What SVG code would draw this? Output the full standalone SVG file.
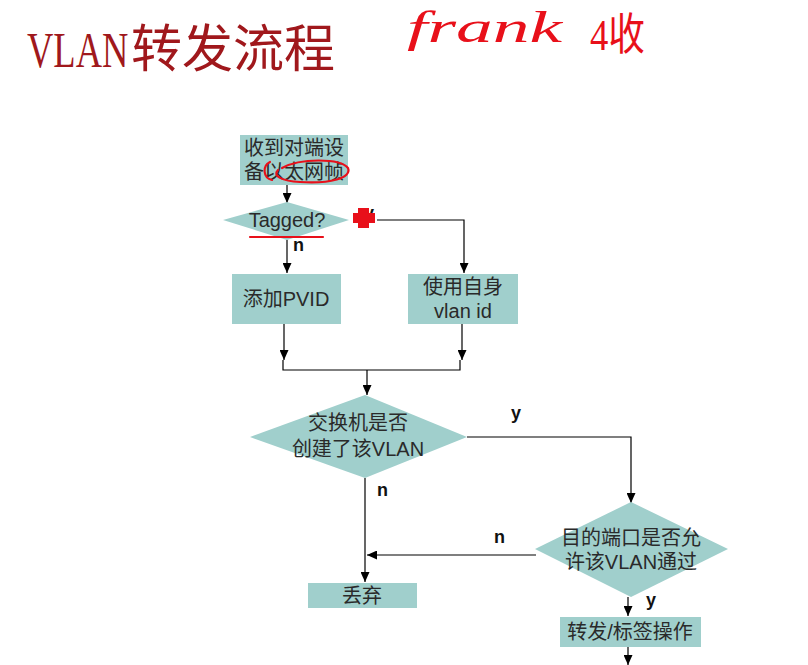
<svg xmlns="http://www.w3.org/2000/svg" width="808" height="665" viewBox="0 0 808 665">
<style>
.box{fill:#a0cfcc}
.t{font-family:"Liberation Sans","Noto Sans CJK SC",sans-serif;font-size:20px;fill:#2a2a2a;text-anchor:middle}
.lbl{font-family:"Liberation Sans",Arial,sans-serif;font-size:18px;font-weight:bold;fill:#111}
.c{fill:none;stroke:#000;stroke-width:1.2}
.ink{fill:none;stroke:#e8101a;stroke-width:2.2;stroke-linecap:round}
</style>
<defs>
<marker id="ah" markerUnits="userSpaceOnUse" markerWidth="10" markerHeight="9" refX="10" refY="4.5" orient="auto">
<path d="M0,0 L10,4.5 L0,9 z" fill="#000"/>
</marker>
</defs>
<rect width="808" height="665" fill="#fff"/>
<g id="title">
<text transform="translate(27,67) scale(1,1.36)" x="0" y="0" font-family="Liberation Serif,serif" font-size="36.5" fill="#a0181c">VLAN</text>
<text x="131" y="67" font-family="Noto Sans CJK SC,sans-serif" font-size="51" fill="#a0181c">转发流程</text>
</g>
<g id="handwriting">
<text x="407" y="42" font-family="Liberation Serif,serif" font-style="italic" font-size="44" fill="#e8101a" textLength="155" lengthAdjust="spacingAndGlyphs">frank</text>
<text x="590" y="50" font-family="Liberation Serif,'Noto Sans CJK SC',serif" font-size="44" fill="#e8101a" textLength="55" lengthAdjust="spacingAndGlyphs">4收</text>
</g>
<g id="connectors">
<path class="c" d="M287 185 V203" marker-end="url(#ah)"/>
<path class="c" d="M287 240 V273" marker-end="url(#ah)"/>
<path class="c" d="M377 220 H464 V273" marker-end="url(#ah)"/>
<path class="c" d="M284 324 V360" marker-end="url(#ah)"/>
<path class="c" d="M462 324 V360" marker-end="url(#ah)"/>
<path class="c" d="M283 360 V370 H460 V360"/>
<path class="c" d="M367 370 V395" marker-end="url(#ah)"/>
<path class="c" d="M467 437 H631 V503" marker-end="url(#ah)"/>
<path class="c" d="M365 478 V582" marker-end="url(#ah)"/>
<path class="c" d="M536 555 H367" marker-end="url(#ah)"/>
<path class="c" d="M628 597 V616" marker-end="url(#ah)"/>
<path class="c" d="M628 647 V665" marker-end="url(#ah)"/>
</g>
<g id="n-receive">
<rect class="box" x="240" y="135" width="108" height="50"/>
<text class="t" x="294" y="155">收到对端设</text>
<text class="t" x="294" y="179">备以太网帧</text>
</g>
<g id="n-tagged">
<polygon class="box" points="287,202 349,220 287,240 223,220"/>
<text class="t" x="287" y="227" font-size="19">Tagged?</text>
</g>
<g id="n-addpvid">
<rect class="box" x="232" y="274" width="109" height="50"/>
<text class="t" x="286" y="306">添加PVID</text>
</g>
<g id="n-ownvlan">
<rect class="box" x="408" y="274" width="110" height="50"/>
<text class="t" x="463" y="294">使用自身</text>
<text class="t" x="463" y="318">vlan id</text>
</g>
<g id="n-created">
<polygon class="box" points="365,395 467,437 365,478 250,437"/>
<text class="t" x="358" y="430">交换机是否</text>
<text class="t" x="358" y="456">创建了该VLAN</text>
</g>
<g id="n-allowed">
<polygon class="box" points="631,502 728,549 631,597 535,549"/>
<text class="t" x="631" y="545">目的端口是否允</text>
<text class="t" x="631" y="569">许该VLAN通过</text>
</g>
<g id="n-drop">
<rect class="box" x="308" y="583" width="109" height="25"/>
<text class="t" x="362" y="603">丢弃</text>
</g>
<g id="n-forward">
<rect class="box" x="560" y="617" width="141" height="30"/>
<text class="t" x="630" y="639">转发/标签操作</text>
</g>
<g id="labels">
<text class="lbl" x="293" y="251">n</text>
<text class="lbl" x="364" y="219">y</text>
<text class="lbl" x="511" y="419">y</text>
<text class="lbl" x="377" y="496">n</text>
<text class="lbl" x="494" y="543">n</text>
<text class="lbl" x="646" y="606">y</text>
</g>
<g id="ink">
<path d="M358 208 H369 V213 H375 V223 H369 V228 H358 V223 H353 V213 H358 Z" fill="#e8101a"/>
<path class="ink" d="M270 162 C262 166 263 178 272 180"/>
<path class="ink" d="M282 168 C300 158 340 158 348 168 C352 178 330 184 300 182 C282 181 272 176 278 170"/>
<path class="ink" d="M250 237 H323"/>
</g>
</svg>
